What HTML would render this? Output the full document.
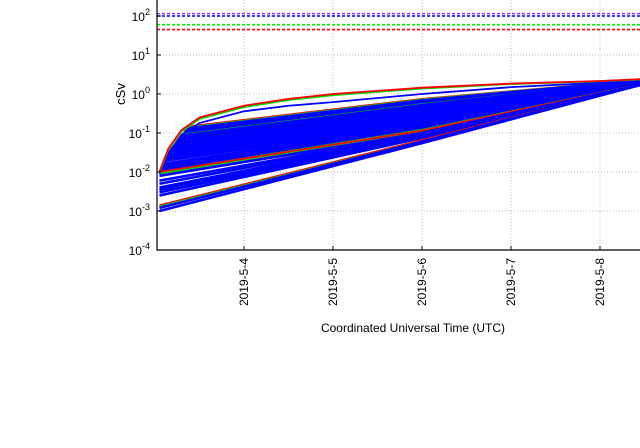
<!DOCTYPE html>
<html><head><meta charset="utf-8"><style>
body{margin:0;background:#fff;}
svg{display:block;font-family:"Liberation Sans",sans-serif;}
</style></head><body>
<svg width="640" height="448" viewBox="0 0 640 448">
<defs><clipPath id="pc"><rect x="157" y="0" width="483" height="250"/></clipPath></defs>
<g id="grid"></g>
<g id="series" clip-path="url(#pc)"></g>
<g id="axes"></g>
<text x="125" y="94" font-size="13" text-anchor="middle" transform="rotate(-90 125 94)">cSv</text>
<text x="413" y="332" font-size="12" text-anchor="middle">Coordinated Universal Time (UTC)</text>
</svg>
<script>
const NS="http://www.w3.org/2000/svg";
const yDecades=[-4,-3,-2,-1,0,1,2];
const xTickDays=[4,5,6,7,8];
const xTickLabels=["2019-5-4","2019-5-5","2019-5-6","2019-5-7","2019-5-8"];
const limitValues=[115,100,60,45];
const limitColors=["#9b30ff","#0000ff","#00ee00","#ff0000"];
const envT=[3.05,3.15,3.3,3.5,4,4.5,5,6,7,8,8.45];
const envRed=[0.01,0.04,0.12,0.25,0.5,0.75,1.0,1.45,1.85,2.15,2.4];
const envGreen=[0.0095,0.037,0.11,0.23,0.46,0.7,0.93,1.38,1.8,2.12,2.35];
const envBlue=[0.009,0.03,0.09,0.18,0.36,0.5,0.62,1.0,1.5,1.95,2.3];
const lineStartT=[3.40,3.38,3.36,3.35,3.33,3.32,3.30,3.29,3.28,3.27,3.26,3.25,3.24,3.23,3.22,3.21,3.20,3.19,3.18,3.17,3.16,3.15,3.14,3.13,3.12,3.11,3.10,3.09,3.08,3.07,3.06,3.05,3.05,3.05,3.05,3.05,3.05,3.05,3.05,3.05,3.05,3.05,3.05,3.05,3.05,3.05];
const lineStartV=[0.15,0.14,0.13,0.12,0.11,0.10,0.09,0.085,0.08,0.075,0.07,0.065,0.06,0.055,0.05,0.047,0.045,0.042,0.04,0.037,0.035,0.032,0.03,0.028,0.026,0.024,0.022,0.019,0.016,0.014,0.012,0.011,0.010,0.009,0.010,0.008,0.006,0.005,0.004,0.0035,0.003,0.0025,0.0014,0.0013,0.0012,0.001];
const lineMidV=[0.75,0.72,0.68,0.65,0.62,0.6,0.55,0.52,0.5,0.47,0.45,0.43,0.42,0.4,0.38,0.36,0.34,0.32,0.3,0.29,0.27,0.26,0.24,0.23,0.22,0.21,0.2,0.18,0.16,0.15,0.14,0.13,0.12,0.11,0.115,0.1,0.095,0.09,0.085,0.08,0.078,0.075,0.066,0.062,0.06,0.055];
const lineEndV=[2.3,2.3,2.25,2.2,2.2,2.2,2.15,2.15,2.1,2.1,2.1,2.05,2.05,2.0,2.0,2.0,2.0,1.95,1.95,1.95,1.9,1.9,1.9,1.9,1.85,1.85,1.85,1.8,1.8,1.8,1.8,1.75,1.75,1.75,1.75,1.7,1.7,1.7,1.7,1.7,1.7,1.7,1.7,1.7,1.7,1.7];
const lineColor=["r","g","b","b","b","b","g","b","b","b","b","b","b","b","b","b","b","b","b","b","b","b","b","b","b","b","b","b","b","b","b","b","g","g","r","b","b","b","b","b","b","b","r","g","b","b"];
const colorMap={r:"#ff0000",g:"#00dd00",b:"#0000ff"};
const x=t=>155+(t-3)*89;
const y=v=>94-39*Math.log10(v);
const grid=document.getElementById("grid"),series=document.getElementById("series"),axes=document.getElementById("axes");
function mk(tag,attrs,parent){const e=document.createElementNS(NS,tag);for(const k in attrs)e.setAttribute(k,attrs[k]);parent.appendChild(e);return e;}
yDecades.forEach(d=>{
  const yy=y(Math.pow(10,d));
  if(d>-4){const g=mk("line",{x1:157,x2:640,y1:yy,y2:yy,stroke:"#bbb","stroke-dasharray":"1,2","stroke-width":1},grid);
  
  }
  const t=mk("text",{x:150,y:yy+5,"font-size":12,"text-anchor":"end"},axes);
  
  
  t.appendChild(document.createTextNode("10"));
  const s=mk("tspan",{"font-size":9,dy:-6},t);s.textContent=String(d);
  const tk=mk("line",{x1:157,x2:161,y1:yy,y2:yy,stroke:"#000"},axes);
  
  
});
xTickDays.forEach((d,i)=>{
  const xx=x(d);
  const g=mk("line",{x1:xx,x2:xx,y1:0,y2:250,stroke:"#bbb","stroke-dasharray":"1,2","stroke-width":1},grid);
  
  
  const tk=mk("line",{x1:xx,x2:xx,y1:246,y2:250,stroke:"#000"},axes);
  
  
  const t=mk("text",{x:xx+4,y:258,"font-size":12,"text-anchor":"end",transform:`rotate(-90 ${xx+4} 258)`},axes);
  
  
  t.textContent=xTickLabels[i];
});
const ax=mk("path",{d:"M157 0V250H640",fill:"none",stroke:"#000","stroke-width":1.2},axes);


limitValues.forEach((v,i)=>{
  const l=mk("line",{x1:157,x2:640,y1:y(v),y2:y(v),stroke:limitColors[i],"stroke-width":1.6,"stroke-dasharray":"3,2"},series);
  
  
});
lineStartT.forEach((t0,i)=>{
  const pts=[[x(t0),y(lineStartV[i])],[x(6),y(lineMidV[i])],[x(8.45),y(lineEndV[i])]];
  const p=mk("polyline",{points:pts.map(p=>p.join(",")).join(" "),fill:"none",stroke:colorMap[lineColor[i]],"stroke-width":lineColor[i]==="b"?2.6:1.8},series);
  
  
});
[[envBlue,"#0000ff"],[envGreen,"#00dd00"],[envRed,"#ff0000"]].forEach(([vals,c])=>{
  const p=mk("polyline",{points:envT.map((t,i)=>x(t)+","+y(vals[i])).join(" "),fill:"none",stroke:c,"stroke-width":1.8},series);
  
  
});
</script>
</body></html>
